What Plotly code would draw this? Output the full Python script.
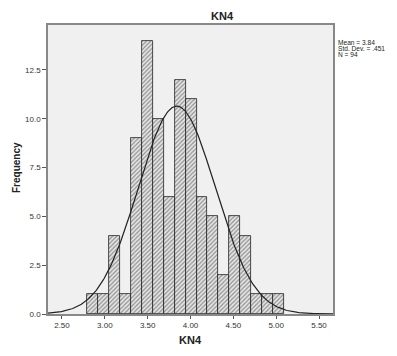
import numpy as np
import plotly.graph_objects as go

# Data
bin_start = 2.79
bin_width = 0.128
counts = [1, 1, 4, 1, 9, 14, 10, 6, 12, 11, 6, 5, 2, 5, 4, 1, 1, 1]
mean_val = 3.84
sd_val = 0.451
n_val = 94
x_ticks = [2.5, 3.0, 3.5, 4.0, 4.5, 5.0, 5.5]
x_tick_labels = ["2.50", "3.00", "3.50", "4.00", "4.50", "5.00", "5.50"]
y_ticks = [0, 2.5, 5, 7.5, 10, 12.5]
y_tick_labels = ["0.0", "2.5", "5.0", "7.5", "10.0", "12.5"]
stats_lines = ["Mean = 3.84", "Std. Dev. = .451", "N = 94"]

centers = [bin_start + bin_width * (i + 0.5) for i in range(len(counts))]

xs = np.linspace(2.337, 5.663, 300)
ys = n_val * bin_width / (sd_val * np.sqrt(2 * np.pi)) * np.exp(-0.5 * ((xs - mean_val) / sd_val) ** 2)

font = "Liberation Sans, Arial, sans-serif"
# page body has an 8px margin, so the figure is laid out in page coords minus 8
OFF = 8
W, H = 397 - OFF, 356 - OFF
L, T = 48 - OFF, 25 - OFF
PR, PB = 333 - OFF, 314 - OFF
R, B = W - PR, H - PB
PW, PH = PR - L, PB - T


def px(xp):
    return (xp - OFF - L) / PW


def py(yp):
    return (PB - (yp - OFF)) / PH


fig = go.Figure()
fig.add_trace(go.Bar(
    x=centers, y=counts, width=bin_width,
    marker=dict(color="#e6e6e6", line=dict(color="#222222", width=0.8),
                pattern=dict(shape="/", fgcolor="#3a3a3a", bgcolor="#e6e6e6", size=3, solidity=0.4)),
    showlegend=False, hoverinfo="skip"))
fig.add_trace(go.Scatter(x=xs, y=ys, mode="lines", line=dict(color="#222222", width=1.2),
                         showlegend=False, hoverinfo="skip"))

fig.update_layout(
    width=W, height=H,
    margin=dict(l=L, r=R, t=T, b=B, autoexpand=False),
    paper_bgcolor="white", plot_bgcolor="#f0f0f0",
    font=dict(family=font, size=8, color="#333333"),
    bargap=0,
)
fig.update_xaxes(range=[2.337, 5.663], tickvals=x_ticks, ticktext=x_tick_labels, automargin=False,
                 showgrid=False, zeroline=False, showline=True, linecolor="#888888", linewidth=1.5,
                 mirror=True, ticks="outside", ticklen=3, tickcolor="#555555")
fig.update_yaxes(range=[0, 14.8], tickvals=y_ticks, ticktext=y_tick_labels, automargin=False,
                 showgrid=False, zeroline=False, showline=True, linecolor="#888888", linewidth=1.5,
                 mirror=True, ticks="outside", ticklen=4, tickcolor="#555555")

# chart title and axis titles
fig.add_annotation(xref="paper", yref="paper", x=px(222), y=py(16), xanchor="center", yanchor="middle",
                   text="<b>KN4</b>", showarrow=False, borderpad=0, font=dict(size=11, color="#222222"))
fig.add_annotation(xref="paper", yref="paper", x=px(190), y=py(340), xanchor="center", yanchor="middle",
                   text="<b>KN4</b>", showarrow=False, font=dict(size=11, color="#222222"))
fig.add_annotation(xref="paper", yref="paper", x=px(16), y=py(168), xanchor="center", yanchor="middle",
                   text="<b>Frequency</b>", textangle=-90, showarrow=False, font=dict(size=10, color="#222222"))

for i, (txt, yp) in enumerate(zip(stats_lines, [42.7, 48.4, 54.2])):
    fig.add_annotation(xref="paper", yref="paper", x=px(337), y=py(yp), xanchor="left", yanchor="middle",
                       text=txt, showarrow=False, align="left", borderpad=0,
                       font=dict(size=6.6, color="#222222"))

fig.write_html("out.html")
